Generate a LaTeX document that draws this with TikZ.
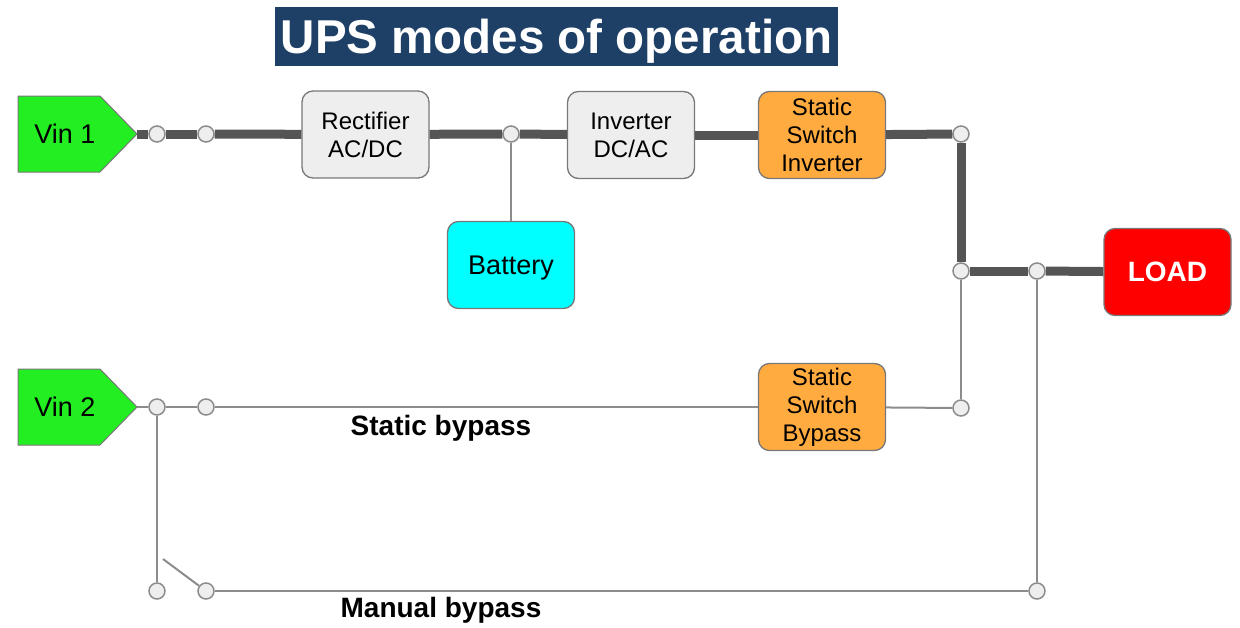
\documentclass[tikz,border=0pt]{standalone}
\usepackage{fontspec}
\setmainfont{Liberation Sans}
\definecolor{titleblue}{RGB}{30,64,102}
\definecolor{vingreen}{RGB}{34,238,34}
\definecolor{boxgray}{RGB}{238,238,238}
\definecolor{edgegray}{RGB}{120,120,120}
\definecolor{wiregray}{RGB}{85,85,85}
\definecolor{thingray}{RGB}{140,140,140}
\definecolor{swiorange}{RGB}{255,171,64}
\definecolor{battcyan}{RGB}{0,255,255}
\definecolor{loadred}{RGB}{255,0,0}
\begin{document}
\begin{tikzpicture}[x=1pt,y=-1pt,
    block/.style={draw=edgegray, line width=1.3pt, rounded corners=11pt, minimum width=127pt, minimum height=87pt, align=center, font=\fontsize{24}{28}\selectfont},
    source/.style={draw=edgegray, line width=1pt, fill=vingreen},
    srctext/.style={font=\fontsize{27}{30}\selectfont},
    dot/.style={circle, draw=thingray, fill=boxgray, line width=1.5pt, minimum size=16pt, inner sep=0pt},
    bus/.style={draw=wiregray, line width=9pt},
    wire/.style={draw=thingray, line width=2pt},
    tag/.style={font=\fontsize{28}{30}\selectfont\bfseries}]
  \useasboundingbox (0,0) rectangle (1240,627);
  % title
  \node[fill=titleblue, text=white, font=\fontsize{47.5}{50}\selectfont\bfseries, minimum width=563pt, minimum height=59pt, inner sep=0pt, text depth=0pt] (title) at (556.5,36.5) {UPS modes of operation};
  % sources
  \draw[source] (18,96) -- (100,96) -- (137,134) -- (100,172) -- (18,172) -- cycle;
  \coordinate (vinA) at (137,134);
  \node[srctext] (vinAtxt) at (65,134) {Vin 1};
  \draw[source] (18,369) -- (100,369) -- (137,407) -- (100,445) -- (18,445) -- cycle;
  \coordinate (vinB) at (137,407);
  \node[srctext] (vinBtxt) at (65,407) {Vin 2};
  % blocks
  \node[block, fill=boxgray] (rect) at (365.5,134.5) {Rectifier\\AC/DC};
  \node[block, fill=boxgray] (inv) at (631,135) {Inverter\\DC/AC};
  \node[block, fill=swiorange] (ssi) at (822,135) {Static\\Switch\\Inverter};
  \node[block, fill=battcyan, font=\fontsize{27}{30}\selectfont, text depth=0pt] (batt) at (511,265) {Battery};
  \node[block, fill=loadred, text=white, font=\fontsize{28}{30}\selectfont\bfseries] (load) at (1167.5,272) {LOAD};
  \node[block, fill=swiorange] (ssb) at (822,407) {Static\\Switch\\Bypass};
  % junctions
  \node[dot] (jA) at (157,134) {};
  \node[dot] (jB) at (206,134) {};
  \node[dot] (jC) at (511,134) {};
  \node[dot] (jD) at (961,134) {};
  \node[dot] (jE) at (961,271) {};
  \node[dot] (jF) at (1037,271) {};
  \node[dot] (jG) at (961,408) {};
  \node[dot] (jH) at (157,407) {};
  \node[dot] (jI) at (206,407) {};
  \node[dot] (jJ) at (157,591) {};
  \node[dot] (jK) at (206,591) {};
  \node[dot] (jL) at (1037,591) {};
  \coordinate (swtip) at (163,559);
  % main path
  \draw[bus] (vinA) -- (jA);
  \draw[bus] (jA) -- (jB);
  \draw[bus] (jB) -- (rect);
  \draw[bus] (rect) -- (jC);
  \draw[bus] (jC) -- (inv);
  \draw[bus] (inv) -- (ssi);
  \draw[bus] (ssi) -- (jD);
  \draw[bus] (jD) -- (jE);
  \draw[bus] (jE) -- (jF);
  \draw[bus] (jF) -- (load);
  \draw[wire] (jC) -- (batt);
  % static bypass
  \draw[wire] (vinB) -- (jH);
  \draw[wire] (jH) -- (jI);
  \draw[wire] (jI) -- (ssb);
  \draw[wire] (ssb) -- (jG);
  \draw[wire] (jG) -- (jE);
  % manual bypass
  \draw[wire] (jH) -- (jJ);
  \draw[wire] (swtip) -- (jK);
  \draw[wire] (jK) -- (jL);
  \draw[wire] (jL) -- (jF);
  \node[tag] (stat) at (441,428) {Static bypass};
  \node[tag] (man) at (441,610) {Manual bypass};
\end{tikzpicture}
\end{document}
